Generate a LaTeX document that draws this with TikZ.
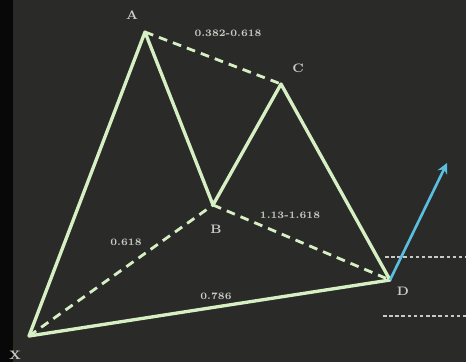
\documentclass[tikz,border=0pt]{standalone}
\usepackage{xcolor}
\usepackage{tikz}
\usetikzlibrary{arrows.meta, positioning, calc}
\definecolor{BoardGray}{RGB}{42,42,40}
\definecolor{EdgeBlack}{RGB}{8,8,8}
\definecolor{ChalkGreen}{RGB}{214,240,196}
\definecolor{ChalkText}{RGB}{200,205,195}
\definecolor{SkyCyan}{RGB}{90,190,225}
\definecolor{DotGray}{RGB}{200,200,200}
\tikzset{
  %%── 图形线条 ───────────────────────────────────────────
  leg/.style   = {draw = ChalkGreen, line width = 1.9pt, line join = round, line cap = round},
  ratio/.style = {draw = ChalkGreen, line width = 1.6pt, dash pattern = on 5pt off 3.5pt},
  %%── 文字 ───────────────────────────────────────────────
  ptlbl/.style = {text = ChalkText, font = \fontsize{7}{8}\selectfont\bfseries, inner sep = 0pt},
  rtlbl/.style = {text = ChalkText, font = \fontsize{5.6}{6.5}\selectfont\bfseries, inner sep = 0pt},
  %%── 箭头与虚线 ─────────────────────────────────────────
  brk/.style   = {->, >= {Stealth[length = 6pt, width = 6pt]}, draw = SkyCyan, line width = 1.5pt},
  lvl/.style   = {draw = DotGray, line width = 1.4pt, dash pattern = on 2pt off 1.5pt},
}
\begin{document}
\begin{tikzpicture}[x = 0.02cm, y = -0.02cm]

  %% ── 背景 ─────────────────────────────────────────────
  \fill[BoardGray] (0,0) rectangle (466,362);
  \fill[EdgeBlack] (0,0) rectangle (13,362);
  \useasboundingbox (0,0) rectangle (466,362);

  %% ── 关键点 ───────────────────────────────────────────
  \coordinate (X) at (29,336);
  \coordinate (A) at (145,32);
  \coordinate (C) at (281,84);
  \coordinate (B) at (213,205);
  \coordinate (D) at (390,280);
  \coordinate (tip) at (447,163);
  \coordinate (hiL) at (385,257);
  \coordinate (hiR) at (466,257);
  \coordinate (loL) at (383,316);
  \coordinate (loR) at (466,316);

  %% ── 支撑 / 阻力水平线 ─────────────────────────────────
  \draw[lvl] (hiL) -- (hiR);
  \draw[lvl] (loL) -- (loR);

  %% ── 比例虚线 ─────────────────────────────────────────
  \draw[ratio] (A) -- (C);
  \draw[ratio] (X) -- (B);
  \draw[ratio] (B) -- (D);

  %% ── 形态主线 ─────────────────────────────────────────
  \draw[leg] (D) -- (X) -- (A) -- (B) -- (C) -- (D);

  %% ── 突破箭头 ─────────────────────────────────────────
  \draw[brk] (D) -- (tip);

  %% ── 标注 ─────────────────────────────────────────────
  \node[ptlbl] (lA) at (132,15)  {A};
  \node[ptlbl] (lC) at (298,68)  {C};
  \node[ptlbl] (lB) at (216,229) {B};
  \node[ptlbl] (lD) at (403,291) {D};
  \node[ptlbl] (lX) at (15,355)  {X};
  \node[rtlbl] (rAC) at (228,33)  {0.382-0.618};
  \node[rtlbl] (rBD) at (290,215) {1.13-1.618};
  \node[rtlbl] (rXB) at (126,242) {0.618};
  \node[rtlbl] (rXD) at (216,296) {0.786};

\end{tikzpicture}
\end{document}
